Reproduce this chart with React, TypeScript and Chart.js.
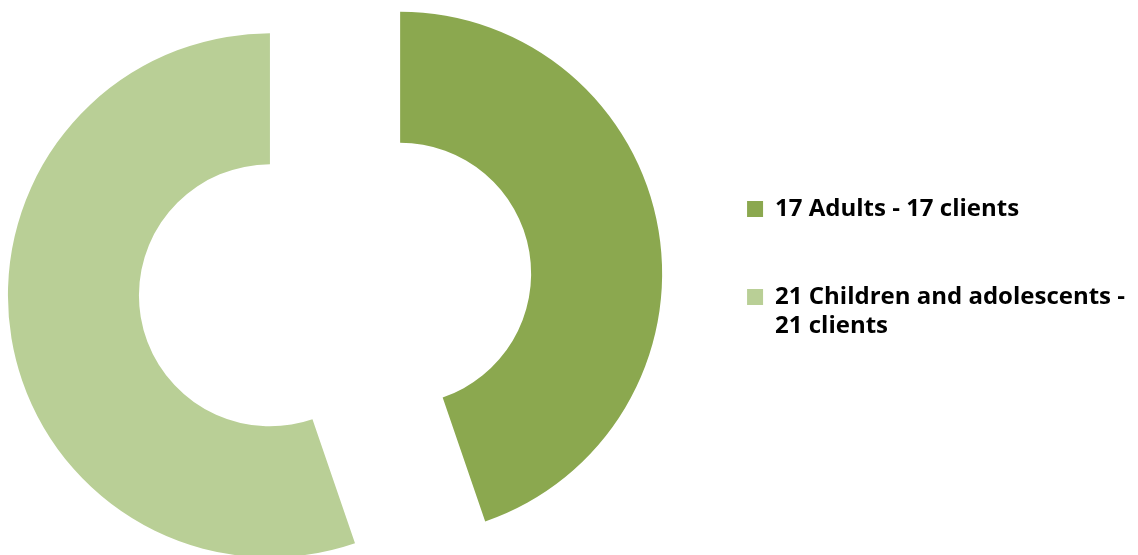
import { useEffect, useRef } from 'react';
import { Chart, registerables } from 'chart.js';

Chart.register(...registerables);

// ---- data ----
const categories: (string | string[])[] = [
  '17 Adults - 17 clients',
  ['21 Children and adolescents -', '21 clients'],
];
const clientCounts = [17, 21];
const sliceColors = ['#8BA84F', '#B9CF96'];

// ---- styling ----
const LEGEND_FONT = { family: "'Open Sans'", size: 24, weight: 'bold' as const, lineHeight: 29 / 24 };
const EXPLODE = 66;

// Pull every slice outward along its mid-angle (exploded doughnut).
const explodePlugin = {
  id: 'explode',
  afterDatasetsUpdate(chart: any, _args: any, opts: any) {
    const dist = (opts && opts.distance) || 0;
    chart.getSortedVisibleDatasetMetas().forEach((meta: any) => {
      meta.data.forEach((arc: any) => {
        const mid = (arc.startAngle + arc.endAngle) / 2;
        arc.x += Math.cos(mid) * dist;
        arc.y += Math.sin(mid) * dist;
      });
    });
  },
};

export default function App() {
  const ref = useRef<HTMLCanvasElement>(null);

  useEffect(() => {
    const canvas = ref.current;
    if (!canvas) return;
    const measure = document.createElement('canvas').getContext('2d')!;
    measure.font = `${LEGEND_FONT.weight} ${LEGEND_FONT.size}px ${LEGEND_FONT.family}`;
    const lines = categories.flatMap((c) => (Array.isArray(c) ? c : [c]));
    const longest = lines.reduce((a, b) => (a.length > b.length ? a : b));
    const textW = measure.measureText(longest).width;
    const width = Math.ceil(textW + 798);
    canvas.width = width;
    canvas.height = 555;
    canvas.style.width = width + 'px';
    canvas.style.height = '555px';

    const chart = new Chart(canvas, {
      type: 'doughnut',
      data: {
        labels: categories as any,
        datasets: [
          {
            data: clientCounts,
            backgroundColor: sliceColors,
            borderWidth: 0,
          },
        ],
      },
      options: {
        responsive: false,
        animation: false,
        radius: 262,
        cutout: '50%',
        layout: { padding: { bottom: 15 } },
        plugins: {
          explode: { distance: EXPLODE },
          title: {
            display: true,
            text: '',
            fullSize: false,
            padding: 0,
            font: { size: 29, lineHeight: 1 },
          },
          legend: {
            position: 'right',
            labels: {
              boxWidth: 16,
              boxHeight: 16,
              padding: 64,
              color: '#000',
              font: LEGEND_FONT,
            },
          },
          tooltip: { enabled: false },
        } as any,
      },
      plugins: [explodePlugin],
    });
    return () => chart.destroy();
  }, []);

  return (
    <div
      style={{
        position: 'fixed',
        left: 0,
        top: 0,
        width: 1138,
        height: 555,
        overflow: 'hidden',
        background: '#fff',
      }}
    >
      <canvas ref={ref} style={{ position: 'absolute', left: -13, top: 0, display: 'block' }} />
    </div>
  );
}
